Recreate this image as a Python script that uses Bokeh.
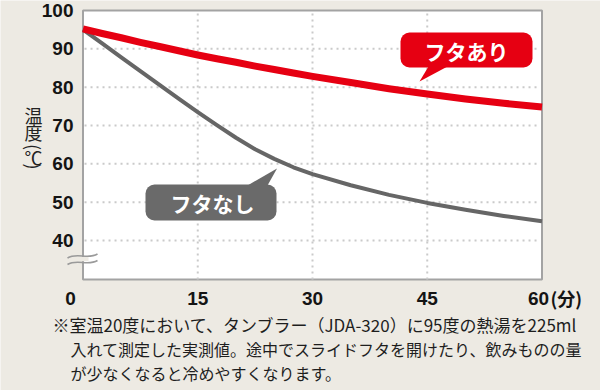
import math
from bokeh.plotting import figure
from bokeh.models import Range1d
from bokeh.core.properties import value
from bokeh.embed import file_html
from bokeh.resources import INLINE

# ---------------- data ----------------
minutes = [0, 2.5, 5, 7.5, 10, 12.5, 15, 17.5, 20, 22.5, 25, 27.5, 30, 35, 40, 45, 50, 55, 60]
temp_with_lid = [95.2, 94.0, 92.9, 91.7, 90.6, 89.5, 88.4, 87.4, 86.5, 85.5, 84.6, 83.7,
                 82.8, 81.2, 79.6, 78.2, 76.9, 75.8, 74.8]
temp_without_lid = [95.0, 91.4, 87.8, 84.2, 80.6, 77.0, 73.5, 70.1, 66.8, 63.8, 61.3, 59.1,
                    57.3, 54.4, 51.9, 49.8, 48.0, 46.4, 45.0]
series_names = ["フタあり", "フタなし"]

x_ticks = [0, 15, 30, 45, 60]
x_tick_labels = ["0", "15", "30", "45", "60"]
x_unit = "(分)"
y_ticks = [40, 50, 60, 70, 80, 90, 100]
y_tick_labels = ["40", "50", "60", "70", "80", "90", "100"]
y_bottom = 29.8          # broken axis: visible bottom of the plot area
y_title_chars = ["温", "度", "(", "℃", ")"]
note_lines = [
    "※室温20度において、タンブラー（JDA-320）に95度の熱湯を225ml",
    "入れて測定した実測値。途中でスライドフタを開けたり、飲みものの量",
    "が少なくなると冷めやすくなります。",
]

# ---------------- layout helpers (page pixels -> data) ----------------
W, H, OFF = 600, 390, 0
PX0, PXS = 82.5, 7.65      # page x of minute 0, px per minute
PY100, PYS = 10.0, 3.833   # page y of 100 deg, px per degree


def X(px):
    return (px - PX0) / PXS


def Y(py):
    return 100 - (py - PY100) / PYS


BEIGE = "#EDEAE3"
RED = "#E60012"
GREY = "#666666"
BORDER = "#A3A3A3"
GRID = "#CACACA"
TXT = "#141414"
NUM_FONT = value("Liberation Sans")
JP_FONT = value("Noto Sans CJK JP")

p = figure(width=W, height=H, output_backend="svg", toolbar_location=None,
           x_range=Range1d(X(OFF), X(OFF + W)), y_range=Range1d(Y(OFF + H), Y(OFF)),
           x_axis_location=None, y_axis_location=None, min_border=0,
           background_fill_color=BEIGE, border_fill_color=BEIGE, outline_line_color=None)
p.xgrid.visible = False
p.ygrid.visible = False

xmin, xmax = x_ticks[0], x_ticks[-1]
ymax = y_ticks[-1]

# plot area
p.quad(left=[xmin], right=[xmax], bottom=[y_bottom], top=[ymax],
       fill_color="white", line_color=BORDER, line_width=2)

# dotted grid
inner_x = x_ticks[1:-1]
p.segment(x0=inner_x, x1=inner_x, y0=[y_bottom] * len(inner_x), y1=[ymax] * len(inner_x),
          line_color=GRID, line_width=2, line_dash="2 4")
inner_y = y_ticks[:-1]
p.segment(x0=[xmin + 0.2] * len(inner_y), x1=[xmax - 0.2] * len(inner_y), y0=inner_y, y1=inner_y,
          line_color=GRID, line_width=2, line_dash="2 4")

# axis break mark
p.quad(left=[X(78)], right=[X(88)], bottom=[Y(260.8)], top=[Y(256.6)],
       fill_color=BEIGE, line_color=None)
p.bezier(x0=[X(67), X(67)], y0=[Y(257.5), Y(264)], x1=[X(97), X(97)], y1=[Y(253.5), Y(260)],
         cx0=[X(77), X(77)], cy0=[Y(251.5), Y(258)], cx1=[X(87), X(87)], cy1=[Y(259.5), Y(266)],
         line_color="#9A9A9A", line_width=1.6)

# curves
p.line(minutes, temp_without_lid, line_color=GREY, line_width=4, line_join="round")
p.line(minutes, temp_with_lid, line_color=RED, line_width=7, line_join="round")

# callouts
p.quad(left=[X(400)], right=[X(532)], top=[Y(32)], bottom=[Y(67)],
       fill_color=RED, line_color=None, border_radius=9)
p.patch(x=[X(428), X(447), X(419)], y=[Y(66), Y(66), Y(81)], fill_color=RED, line_color=None)
p.text(x=[X(466)], y=[Y(50)], text=[series_names[0]], text_color="white",
       text_font=JP_FONT, text_font_style="bold", text_font_size="21px",
       text_align="center", text_baseline="middle")

p.quad(left=[X(145)], right=[X(276)], top=[Y(184)], bottom=[Y(220)],
       fill_color="#6A6A6A", line_color=None, border_radius=9)
p.patch(x=[X(247), X(267), X(276.5)], y=[Y(185), Y(185), Y(168)], fill_color="#6A6A6A", line_color=None)
p.text(x=[X(212)], y=[Y(202.5)], text=[series_names[1]], text_color="white",
       text_font=JP_FONT, text_font_style="bold", text_font_size="21px",
       text_align="center", text_baseline="middle")

# y tick labels
p.text(x=[X(73)] * len(y_ticks), y=y_ticks, text=y_tick_labels, text_color=TXT,
       text_font=NUM_FONT, text_font_style="bold", text_font_size="19px",
       text_align="right", text_baseline="middle")

# x tick labels
x_label_shift = [-12.5, 0, 0, 0, -3.5]
for xv, lab, dx in zip(x_ticks, x_tick_labels, x_label_shift):
    p.text(x=[xv], y=[Y(298)], text=[lab], x_offset=dx, text_color=TXT,
           text_font=NUM_FONT, text_font_style="bold", text_font_size="19px",
           text_align="center", text_baseline="middle")
p.text(x=[X(550)], y=[Y(297)], text=[x_unit], text_color=TXT,
       text_font=JP_FONT, text_font_style="bold", text_font_size="18px",
       text_align="left", text_baseline="middle")

# y title (vertical, upright characters)
title_py = [114, 131, 146.5, 156, 166]
for ch, py in zip(y_title_chars, title_py):
    ang = -math.pi / 2 if ch in "()" else 0
    p.text(x=[X(33)], y=[Y(py)], text=[ch], angle=ang, text_color="#222222",
           text_font=JP_FONT, text_font_style="normal", text_font_size="18px",
           text_align="center", text_baseline="middle")

# footnote
note_px = [52, 70, 70]
note_py = [324, 348, 372]
note_size = ["17px", "16px", "16px"]
for line, px, py, fs in zip(note_lines, note_px, note_py, note_size):
    p.text(x=[X(px)], y=[Y(py)], text=[line], text_color="#1E1E1E",
           text_font=JP_FONT, text_font_size=fs,
           text_align="left", text_baseline="middle")

open("out.html", "w").write(file_html(p, INLINE))
